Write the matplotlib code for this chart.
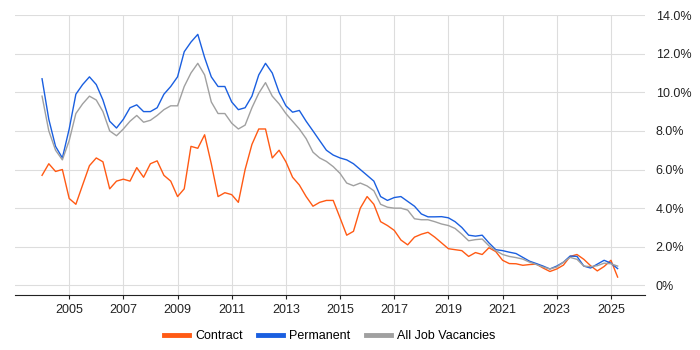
import numpy as np
import pandas as pd
import matplotlib
matplotlib.use("Agg")
import matplotlib.pyplot as plt

# quarterly readings, Jan 2004 .. Apr 2025 (percent of vacancies)
start = "2004-01-01"

contract = [5.7, 6.3, 5.9, 6.0, 4.5, 4.2, 5.2, 6.2, 6.6, 6.4, 5.0, 5.4,
            5.5, 5.4, 6.1, 5.6, 6.3, 6.45, 5.7, 5.4, 4.6, 5.0, 7.2, 7.1,
            7.8, 6.3, 4.6, 4.8, 4.7, 4.3, 6.0, 7.3, 8.1, 8.1, 6.6, 7.0,
            6.4, 5.6, 5.2, 4.6, 4.1, 4.3, 4.4, 4.4, 3.5, 2.6, 2.8, 4.0,
            4.6, 4.2, 3.3, 3.1, 2.85, 2.35, 2.1, 2.5, 2.65, 2.75, 2.5, 2.2,
            1.9, 1.85, 1.8, 1.5, 1.7, 1.6, 1.95, 1.75, 1.3, 1.13, 1.12, 1.04,
            1.08, 1.1, 0.9, 0.72, 0.85, 1.05, 1.5, 1.6, 1.35, 1.02, 0.75, 0.98,
            1.3, 0.43]

permanent = [10.7, 8.6, 7.2, 6.6, 8.1, 9.9, 10.4, 10.8, 10.4, 9.6, 8.5, 8.15,
             8.6, 9.2, 9.35, 9.0, 9.0, 9.2, 9.9, 10.3, 10.8, 12.1, 12.6, 13.0,
             11.8, 10.8, 10.3, 10.3, 9.5, 9.1, 9.2, 9.8, 10.9, 11.5, 11.0, 10.0,
             9.3, 8.97, 9.06, 8.5, 8.0, 7.5, 7.0, 6.75, 6.6, 6.5, 6.3, 6.0,
             5.7, 5.4, 4.6, 4.4, 4.55, 4.6, 4.35, 4.1, 3.7, 3.55, 3.55, 3.56,
             3.5, 3.3, 3.0, 2.6, 2.55, 2.6, 2.2, 1.85, 1.8, 1.72, 1.65, 1.45,
             1.25, 1.13, 1.0, 0.85, 1.0, 1.2, 1.52, 1.5, 1.0, 0.9, 1.1, 1.3,
             1.15, 0.87]

all_jobs = [9.8, 8.0, 7.0, 6.5, 7.5, 8.9, 9.4, 9.8, 9.6, 9.0, 8.0, 7.75,
            8.1, 8.5, 8.8, 8.45, 8.55, 8.8, 9.1, 9.3, 9.3, 10.3, 11.0, 11.5,
            10.9, 9.5, 8.9, 8.9, 8.4, 8.1, 8.3, 9.2, 9.95, 10.5, 9.8, 9.4,
            8.9, 8.5, 8.1, 7.6, 6.9, 6.6, 6.42, 6.15, 5.8, 5.3, 5.16, 5.3,
            5.15, 4.9, 4.2, 4.05, 4.0, 4.0, 3.9, 3.45, 3.4, 3.4, 3.3, 3.18,
            3.1, 2.95, 2.65, 2.31, 2.37, 2.4, 2.05, 1.8, 1.6, 1.5, 1.44, 1.36,
            1.2, 1.08, 0.95, 0.85, 0.95, 1.2, 1.45, 1.35, 1.0, 0.97, 1.02, 1.15,
            1.12, 1.0]

labels = ["Contract", "Permanent", "All Job Vacancies"]
colors = ["#ff5a14", "#1a5fe0", "#a0a0a0"]
tick_years = list(range(2005, 2026, 2))

plt.rcParams["font.family"] = ["Liberation Sans", "DejaVu Sans"]

dates = pd.date_range(start, periods=len(contract), freq="QS")

fig = plt.figure(figsize=(7, 3.5), dpi=100)
ax = fig.add_axes([0.0214, 0.157, 0.8996, 0.8])

for series, lab, col in zip([contract, permanent, all_jobs], labels, colors):
    ax.plot(dates, series, color=col, lw=1, label=lab)

ax.set_ylim(-0.5, 14)
ax.set_yticks(range(0, 15, 2))
ax.set_yticklabels(["0%"] + ["%.1f%%" % v for v in range(2, 15, 2)])
ax.yaxis.tick_right()
ax.tick_params(axis="y", length=0, pad=8, labelsize=9, colors="#222222")

ax.set_xlim(pd.Timestamp("2003-01-01"), pd.Timestamp("2026-04-01"))
ax.set_xticks([pd.Timestamp(f"{y}-01-01") for y in tick_years])
ax.set_xticklabels([str(y) for y in tick_years])
ax.tick_params(axis="x", length=3, labelsize=9, colors="#222222")

ax.grid(True, color="#dddddd", lw=0.8)
ax.set_axisbelow(True)
for s in ["top", "left", "right"]:
    ax.spines[s].set_visible(False)
ax.spines["bottom"].set_color("#222222")

leg = ax.legend(loc="upper center", bbox_to_anchor=(0.5, -0.085), ncol=3,
                frameon=False, fontsize=9, handlelength=2, handletextpad=0.5,
                columnspacing=1.2)
for line in leg.get_lines():
    line.set_linewidth(3.5)

fig.savefig("out.png", dpi=100)
